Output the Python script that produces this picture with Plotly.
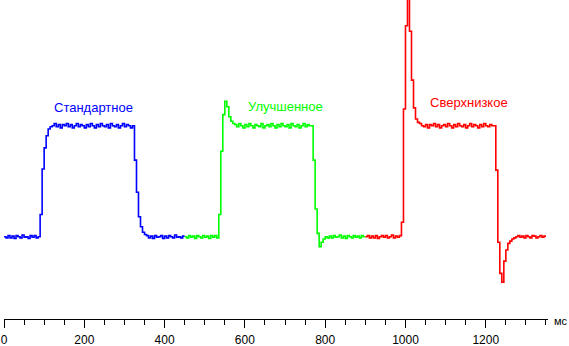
import plotly.graph_objects as go

# Response traces for three overdrive modes, sampled every 5 ms
step_ms = 5
seg_start = [0, 450, 900]
names = ["Стандартное", "Улучшенное", "Сверхнизкое"]
colors = ["#0000ff", "#00ff00", "#ff0000"]

standard = [
    0, -1, 1, -1, 0.5, -1.5, 1, 0, -1, 1.5, -0.5, 0, -1.5, 1, -0.5, 1, -1, 0,
    20, 61, 80, 91, 97, 99,
    100, 102, 99, 101, 98, 101, 100, 102, 99, 101, 98, 100, 102, 99, 101, 100, 98, 101, 99, 102,
    100, 98, 101, 99, 102, 100, 99, 101, 98, 102, 100, 99, 101, 98, 100, 102, 99, 101, 100, 98,
    100, 69, 40, 18, 9, 4, 2, 1,
    -1, 0.5, -1.5, 1, -0.5, 0, 1, -1.5, 0.5, -1, 1, 0, -1, 1.5, -0.5, 0, -1, 0.5,
]

improved = [
    0, -1, 1, -0.5, 0.5, -1.5, 1, 0, -1, 1, -0.5, 0.5, -1.5, 1, -0.5, 1, -1,
    20, 77, 110, 122, 117, 108, 104, 102,
    101, 99, 102, 100, 98, 101, 99, 102, 100, 98, 101, 100, 99, 102, 98, 100, 101, 99, 102, 100,
    98, 101, 99, 102, 100, 99, 101, 98, 102, 100, 99, 101, 98, 100, 102, 99, 101, 100,
    100, 69, 25, 3, -9, -5, -2,
    0, -1, 0.5, -1, 1, -0.5, 0, 1.5, -1, 0.5, -1.5, 1, 0, -1, 1, -0.5, 0.5, -1, 1, 0,
]

ultra_low = [
    0, 1, -1, 0.5, -1, 1, -1.5, 0, 1, -0.5, 1, -1, 0, 1.5, -1, 0.5, -0.5, 1,
    13, 115, 190, 218, 185, 141, 116, 106, 103, 102,
    100, 99, 101, 98, 101, 100, 102, 99, 101, 98, 100, 101, 99, 102, 100, 98, 101, 99,
    102, 100, 99, 101, 98, 100, 102, 99, 101, 100, 98, 101, 99, 102, 100, 99, 101, 100,
    100, 60, -5, -33, -41, -22, -12, -6, -4, -2,
    -1, 0, 1, -0.5, 0.5, -1, 1, 0, -1, 1, 0.5, -1, 0, 1, -0.5, 0.5,
]

series = [standard, improved, ultra_low]

# Axis settings
x_range = [0, 1355]
y_range = [-74.1, 213.2]
major_tick = 200
minor_tick = 50
unit_label = "мс"

# Label anchor points (ms, level)
label_x = [222, 700, 1158]
label_y = [116, 117, 120.5]

fig = go.Figure()
for start, vals, col in zip(seg_start, series, colors):
    t = [start + step_ms * i for i in range(len(vals))]
    # close the step at the segment's end time
    t.append(start + step_ms * len(vals))
    v = list(vals) + [vals[-1]]
    fig.add_trace(go.Scatter(
        x=t, y=v, mode="lines", line=dict(color=col, width=1.6, shape="hv"),
        showlegend=False, hoverinfo="skip",
    ))

for name, col, lx, ly in zip(names, colors, label_x, label_y):
    fig.add_annotation(
        x=lx, y=ly, text=name, showarrow=False,
        font=dict(family="Liberation Sans, Arial, sans-serif", size=13, color=col),
        xanchor="center", yanchor="middle",
    )

fig.add_annotation(
    xref="paper", yref="paper", x=1.008, y=-0.006, text=unit_label,
    showarrow=False, xanchor="left", yanchor="middle",
    font=dict(family="Liberation Sans, Arial, sans-serif", size=11, color="#000000"),
)

fig.update_layout(
    width=569, height=346,
    margin=dict(l=4, r=21, t=0, b=27),
    paper_bgcolor="white", plot_bgcolor="white",
    xaxis=dict(
        range=x_range, showgrid=False, zeroline=False,
        showline=True, linecolor="black", linewidth=1,
        ticks="outside", ticklen=8, tickcolor="black", tickwidth=1,
        dtick=major_tick, tick0=0, ticklabelstandoff=2,
        minor=dict(ticks="outside", ticklen=5, dtick=minor_tick, tickcolor="black", showgrid=False),
        tickfont=dict(family="Liberation Sans, Arial, sans-serif", size=12, color="black"),
    ),
    yaxis=dict(range=y_range, visible=False, showgrid=False, zeroline=False),
)

fig.write_html("out.html")
